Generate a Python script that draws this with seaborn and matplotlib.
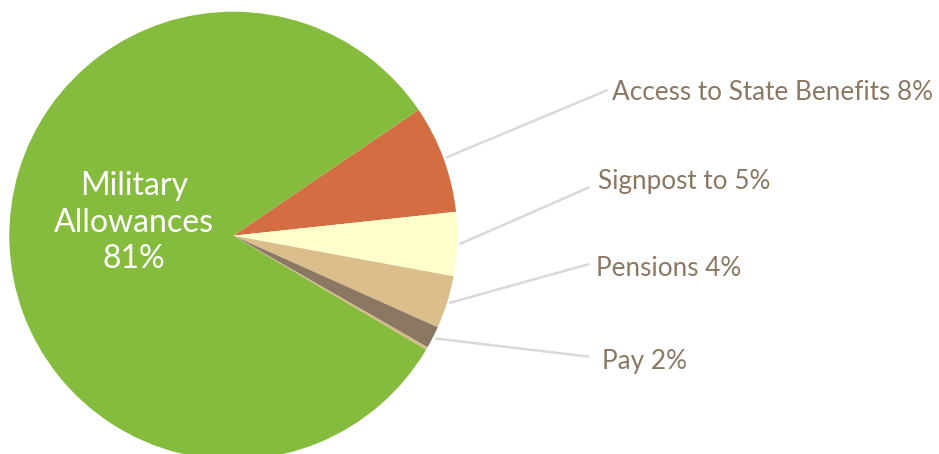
import numpy as np
import matplotlib
matplotlib.use("Agg")
import matplotlib.pyplot as plt
import seaborn as sns

# ---- data ----
categories = ["Access to State Benefits", "Signpost to", "Pensions", "Pay", "Other", "Military Allowances"]
values = [7.8, 4.6, 3.8, 1.6, 0.2, 82.0]
pct_labels = ["8%", "5%", "4%", "2%", "", "81%"]
colors = ["#D46E42", "#FFFFCC", "#DBBE8C", "#8B7863", "#D8B987", "#86BC3E"]

sns.set_theme(style="white")
plt.rcParams["font.family"] = ["Lato", "DejaVu Sans"]

W, H = 939, 454
fig = plt.figure(figsize=(W / 100, H / 100), dpi=100)
ax = fig.add_axes([0, 0, 1, 1])

cx, cy = 233.3, H - 235.7
R = 224
wedges, _ = ax.pie(values, colors=colors, startangle=34.2, counterclock=False,
                   center=(cx, cy), radius=R, frame=True,
                   wedgeprops=dict(linewidth=0))
ax.set_xlim(0, W)
ax.set_ylim(0, H)
ax.set_aspect("equal")
ax.axis("off")

label_color = "#8B7863"
line_color = "#D9D9D9"
# (line end x, line end y in px, text x, text baseline y in px)
layout = {
    0: (607.7, 90, 611.5, 99.5),
    1: (589.3, 187.3, 597.5, 189.5),
    2: (589.3, 264, 596.5, 276.5),
    3: (589.3, 356.7, 602, 369),
}
for i, (ex, ey, tx, ty) in layout.items():
    w = wedges[i]
    mid = np.deg2rad((w.theta1 + w.theta2) / 2)
    sx = cx + 1.01 * R * np.cos(mid)
    sy = cy + 1.01 * R * np.sin(mid)
    ax.plot([sx, ex], [sy, H - ey], color=line_color, lw=1.8, solid_capstyle="butt")
    ax.text(tx, H - ty, f"{categories[i]} {pct_labels[i]}", color=label_color,
            fontsize=18.8, ha="left", va="baseline")

mil_lines = ["Military", "Allowances", pct_labels[5]]
for line, base in zip(mil_lines, [195, 232, 268.5]):
    ax.text(134, H - base, line, color="white", fontsize=23,
            ha="center", va="baseline")

fig.savefig("out.png", dpi=100)
